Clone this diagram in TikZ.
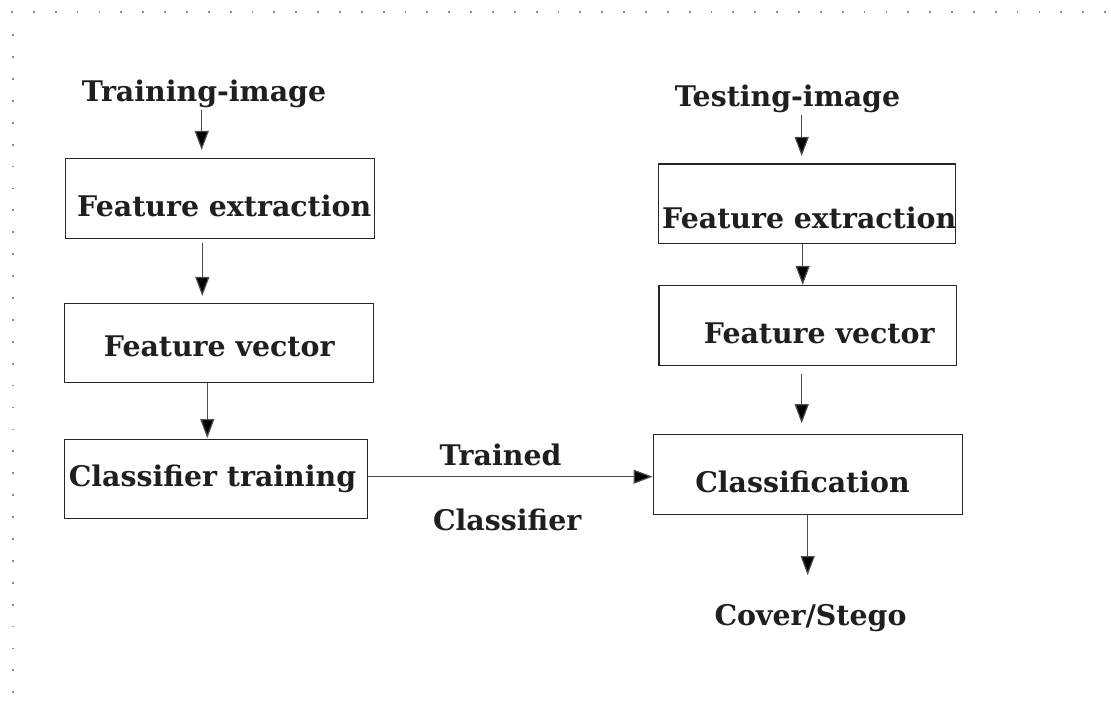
\documentclass[tikz,border=0pt]{standalone}
\usepackage{fontspec}
\setmainfont{DejaVu Serif}
\usetikzlibrary{arrows.meta}
\begin{document}
\begin{tikzpicture}[x=1pt,y=-1pt,
  box/.style={draw=black!85,line width=1.5pt,minimum width=#1,inner sep=0pt,minimum height=80pt},
  lbl/.style={anchor=base,font=\fontsize{28.4}{32}\selectfont\bfseries,text=black!88,inner sep=0pt},
  arr/.style={draw=black!70,line width=1.2pt,-{Triangle[width=14pt,length=19pt,fill=black]}},
  dotmark/.style={fill=black!45}]
\useasboundingbox[fill=white] (0,0) rectangle (1111,708);
% dotted grid border
\foreach \i in {0,...,50} {\fill[dotmark] (12+21.86*\i-0.9,11.1) rectangle ++(1.8,1.8);}
\foreach \j in {1,...,31} {\fill[dotmark] (12.6-0.9,13.3+21.9*\j-0.9) rectangle ++(1.8,1.8);}
% boxes
\node[box=308.6pt,minimum height=80pt] (b1) at (220,198.3) {};
\node[box=308.6pt,minimum height=79pt] (b2) at (219,342.8) {};
\node[box=303pt,minimum height=79pt] (b3) at (216.2,478.8) {};
\node[box=297.4pt,minimum height=79.3pt] (b4) at (807,203.7) {};
\node[box=297.7pt,minimum height=80pt] (b5) at (807.8,325.6) {};
\node[box=309pt,minimum height=80pt] (b6) at (807.8,474.3) {};
% labels
\node[lbl] (tr) at (204,102) {Training-image};
\node[lbl] (b1t) at (224.2,216.7) {Feature extraction};
\node[lbl] (b2t) at (219.2,356.7) {Feature vector};
\node[lbl] (b3t) at (212.5,486.7) {Classifier training};
\node[lbl] (te) at (787.5,106.7) {Testing-image};
\node[lbl] (b4t) at (809.2,228.3) {Feature extraction};
\node[lbl] (b5t) at (819.2,343.3) {Feature vector};
\node[lbl] (b6t) at (802.5,492.7) {Classification};
\node[lbl] (cs) at (810.5,625) {Cover/Stego};
\node[lbl] (tc1) at (500.5,465) {Trained};
\node[lbl] (tc2) at (507.2,530) {Classifier};
% arrows
\coordinate (a1s) at (201.7,110);
\draw[arr,shorten >=7.6pt] (a1s) -- (a1s |- b1.north);
\draw[arr,shorten <=3.7pt,shorten >=6.6pt] ([xshift=-17.7pt]b1.south) -- ([xshift=-17.7pt]b1.south |- b2.north);
\draw[arr,shorten >=0.5pt] ([xshift=-11.7pt]b2.south) -- ([xshift=-11.7pt]b2.south |- b3.north);
\draw[arr] (b3.east |- 0,476.7) -- (b6.west |- 0,476.7);
\coordinate (a2s) at (801.7,115);
\draw[arr,shorten >=7.3pt] (a2s) -- (a2s |- b4.north);
\draw[arr] ([xshift=-4.3pt]b4.south) -- ([xshift=-4.3pt]b4.south |- b5.north);
\draw[arr,shorten <=7.7pt,shorten >=10.3pt] ([xshift=-6.1pt]b5.south) -- ([xshift=-6.1pt]b5.south |- b6.north);
\draw[arr] ([xshift=-0.1pt]b6.south) -- ++(0,60);
\end{tikzpicture}
\end{document}
